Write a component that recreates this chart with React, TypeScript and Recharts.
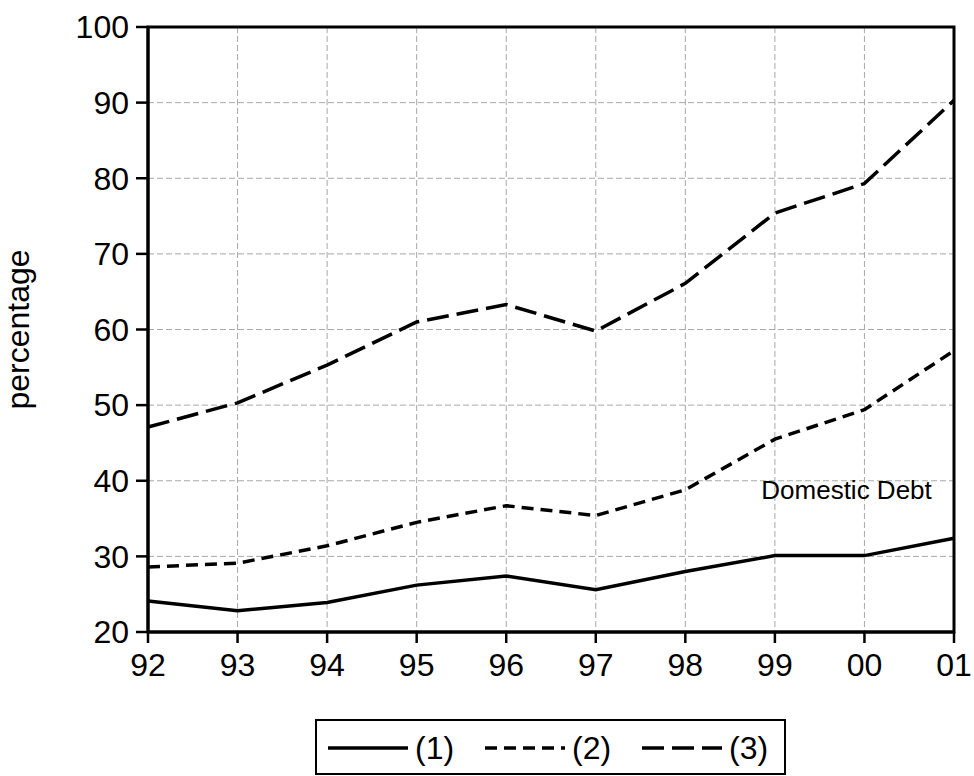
import { LineChart, Line, XAxis, YAxis, CartesianGrid, ReferenceArea, ReferenceDot } from 'recharts'

const years = ['92', '93', '94', '95', '96', '97', '98', '99', '00', '01']
const series1 = [24.1, 22.8, 23.9, 26.2, 27.4, 25.6, 28.0, 30.1, 30.1, 32.4]
const series2 = [28.6, 29.1, 31.4, 34.5, 36.7, 35.4, 38.8, 45.5, 49.4, 57.2]
const series3 = [47.1, 50.3, 55.3, 61.0, 63.3, 59.8, 66.1, 75.4, 79.3, 90.3]
const yTicks = [20, 30, 40, 50, 60, 70, 80, 90, 100]
const seriesNames = ['(1)', '(2)', '(3)']

const font = '"Liberation Sans", Arial, Helvetica, sans-serif'
const dashes = ['', '12 7', '22 8']

const data = years.map((y, i) => ({ idx: i, year: y, s1: series1[i], s2: series2[i], s3: series3[i] }))
const xTicks = years.map((_, i) => i)

function LegendBox() {
  return (
    <div
      style={{
        position: 'absolute', left: 315, top: 719, width: 471, height: 56,
        border: '2px solid #000', boxSizing: 'border-box', background: '#fff',
      }}
    >
      <svg width={467} height={52}>
        {seriesNames.map((name, i) => {
          const x0 = 11 + i * 157
          return (
            <g key={name}>
              <line x1={x0} x2={x0 + 80} y1={27} y2={27} stroke="#000" strokeWidth={3.5} strokeDasharray={dashes[i] || undefined} />
              <text x={x0 + 87} y={38} fontSize={32} fontFamily={font} fill="#000">{name}</text>
            </g>
          )
        })}
      </svg>
    </div>
  )
}

export default function App() {
  return (
    <div style={{ position: 'absolute', left: 0, top: 0, width: 974, height: 776, background: '#fff', fontFamily: font }}>
      <LineChart width={974} height={700} data={data} margin={{ top: 27, right: 20, bottom: 8, left: 0 }}>
        <CartesianGrid stroke="#a8a8a8" strokeDasharray="6 3" strokeWidth={1} />
        <XAxis
          dataKey="idx" type="number" domain={[0, 9]} ticks={xTicks} height={60}
          tickFormatter={(v) => years[v]}
          tick={{ fill: '#000', fontSize: 32, fontFamily: font }}
          axisLine={{ stroke: '#000', strokeWidth: 3 }}
          tickLine={{ stroke: '#000', strokeWidth: 2.5 }}
          tickSize={11} tickMargin={10}
        />
        <YAxis
          type="number" domain={[20, 100]} ticks={yTicks} width={148} interval={0}
          tick={{ fill: '#000', fontSize: 32, fontFamily: font }}
          axisLine={{ stroke: '#000', strokeWidth: 3 }}
          tickLine={{ stroke: '#000', strokeWidth: 2.5 }}
          tickSize={12} tickMargin={7}
          label={{ value: 'percentage', angle: -90, position: 'insideLeft', offset: 18, fill: '#000', fontSize: 32, fontFamily: font, style: { textAnchor: 'middle' } }}
        />
        <ReferenceArea x1={0} x2={9} y1={20} y2={100} fill="none" stroke="#000" strokeWidth={3} />
        <Line dataKey="s1" name={seriesNames[0]} stroke="#000" strokeWidth={3.5} dot={false} isAnimationActive={false} />
        <Line dataKey="s2" name={seriesNames[1]} stroke="#000" strokeWidth={3.5} strokeDasharray={dashes[1]} dot={false} isAnimationActive={false} />
        <Line dataKey="s3" name={seriesNames[2]} stroke="#000" strokeWidth={3.5} strokeDasharray={dashes[2]} dot={false} isAnimationActive={false} />
        <ReferenceDot
          x={7.8} y={38.8} r={0} fill="none" stroke="none"
          label={{ value: 'Domestic Debt', position: 'center', fontSize: 26, fill: '#000', fontFamily: font }}
        />
      </LineChart>
      <LegendBox />
    </div>
  )
}
